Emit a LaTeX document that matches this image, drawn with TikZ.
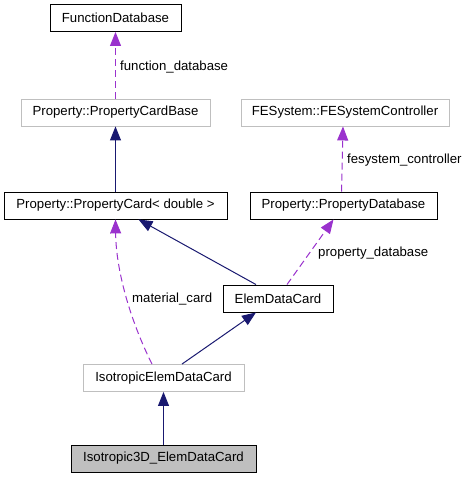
\documentclass[tikz,border=0pt]{standalone}
\usepackage{fontspec}
\setmainfont{Liberation Sans}
\usetikzlibrary{arrows.meta, positioning}
\definecolor{EdgeNavy}{HTML}{191970}
\definecolor{UsePurple}{HTML}{9A32CD}
\definecolor{BoxGray}{HTML}{BFBFBF}

\begin{document}
\begin{tikzpicture}[
  x=1pt, y=-1pt,
  cls/.style={rectangle, draw=black, fill=white, line width=0.9pt,
    font=\fontsize{13.2}{15}\selectfont, minimum height=27pt, inner sep=0pt},
  nodoc/.style={cls, draw=BoxGray},
  focus/.style={cls, fill=BoxGray},
  inherit/.style={-{Triangle[length=14pt, width=11pt]}, line width=1pt, color=EdgeNavy},
  uses/.style={-{Triangle[length=14pt, width=11pt]}, line width=1pt, color=UsePurple,
    dash pattern=on 7pt off 4pt},
  rolename/.style={font=\fontsize{13.2}{15}\selectfont, anchor=west, inner sep=0pt}
]
  \useasboundingbox (0,0) rectangle (469,480);

  \node[cls, minimum width=131pt] (fdb) at (115.5,18) {FunctionDatabase};
  \node[nodoc, minimum width=189pt] (pcb) at (115.5,112.5) {Property::PropertyCardBase};
  \node[nodoc, minimum width=208pt] (fes) at (345,112.5) {FESystem::FESystemController};
  \node[cls, minimum width=223pt] (pc) at (115.5,205.5) {Property::PropertyCard< double >};
  \node[cls, minimum width=187pt] (pdb) at (343.5,205.5) {Property::PropertyDatabase};
  \node[cls, minimum width=110pt] (edc) at (278,298.5) {ElemDataCard};
  \node[nodoc, minimum width=161pt] (iedc) at (163.5,378) {IsotropicElemDataCard};
  \node[focus, minimum width=185pt] (i3d) at (163.5,458.5) {Isotropic3D\_ElemDataCard};

  % inheritance
  \draw[inherit] (pc.north) -- (pcb.south);
  \draw[inherit] ([xshift=-22pt]edc.north) -- ([xshift=23pt]pc.south);
  \draw[inherit] ([xshift=18.5pt]iedc.north) -- ([xshift=-22pt]edc.south);
  \draw[inherit] (i3d.north) -- (iedc.south);

  % usage
  \draw[uses] (pcb.north) -- (fdb.south);
  \draw[uses] ([xshift=-2pt]pdb.north) -- ([xshift=-2pt]fes.south);
  \draw[uses] ([xshift=9pt]edc.north) -- ([xshift=-10pt]pdb.south);
  \draw[uses] ([xshift=-11.5pt]iedc.north) .. controls (130,320) and (116,270) .. (pc.south);

  \node[rolename] (lfdb) at (120,67) {function\_database};
  \node[rolename] (lfes) at (347,160) {fesystem\_controller};
  \node[rolename] (lpdb) at (318,253) {property\_database};
  \node[rolename] (lmat) at (132,299) {material\_card};
\end{tikzpicture}
\end{document}
